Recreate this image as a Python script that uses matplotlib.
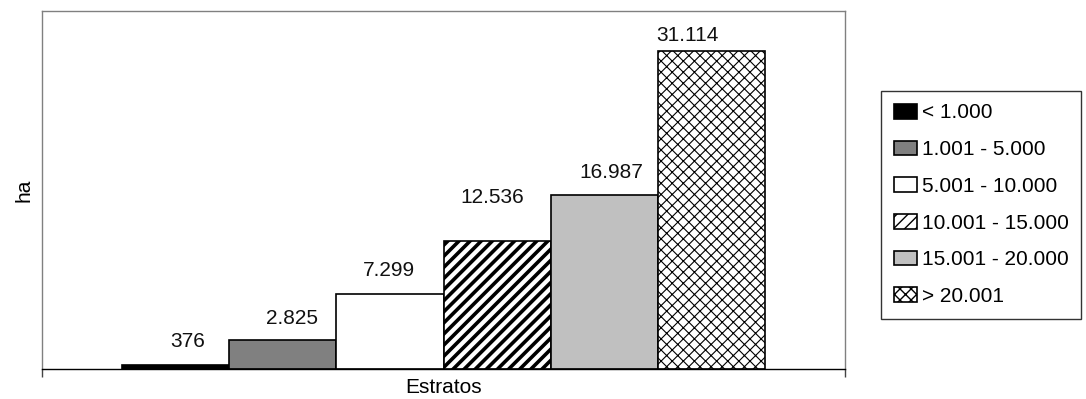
import matplotlib
matplotlib.use("Agg")
import matplotlib.pyplot as plt

plt.rcParams["font.family"] = ["Liberation Sans", "DejaVu Sans"]

estratos = ["< 1.000", "1.001 - 5.000", "5.001 - 10.000", "10.001 - 15.000", "15.001 - 20.000", "> 20.001"]
superficie_ha = [376, 2825, 7299, 12536, 16987, 31114]
etiquetas = ["376", "2.825", "7.299", "12.536", "16.987", "31.114"]

colores = ["#000000", "#808080", "#FFFFFF", "#FFFFFF", "#C0C0C0", "#FFFFFF"]
tramas = [None, None, None, "///", None, "xxx"]
grosor_trama = [1, 1, 1, 2.6, 1, 0.8]
# desplazamiento (px) de cada etiqueta respecto al centro/tope de la barra
etiqueta_dx = [12, 9, -1, -5, 7, -24]
etiqueta_dy = [18, 16, 18, 38, 17, 10]

fig = plt.figure(figsize=(10.86, 3.99), dpi=100)
ax = fig.add_axes([42 / 1086, 1 - 369 / 399, (845 - 42) / 1086, (369 - 11) / 399])

ancho = 0.8 / len(superficie_ha)
for i, (nombre, valor, txt) in enumerate(zip(estratos, superficie_ha, etiquetas)):
    x = (i - (len(superficie_ha) - 1) / 2) * ancho
    bar = ax.bar(x, valor, width=ancho, color=colores[i], edgecolor="black",
                 linewidth=1.2, hatch=tramas[i], label=nombre)[0]
    if hasattr(bar, "set_hatch_linewidth"):
        bar.set_hatch_linewidth(grosor_trama[i])
    ax.annotate(txt, (x, valor), xytext=(etiqueta_dx[i], etiqueta_dy[i]),
                textcoords="offset pixels", ha="center", va="baseline",
                fontsize=15, color="#111111")

ax.set_xlim(-0.5, 0.5)
ax.set_ylim(0, 35000)
ax.set_yticks([])
ax.set_xticks([-0.5, 0.5])
ax.set_xticklabels(["", ""])
ax.tick_params(axis="x", direction="out", length=6, width=1, color="#444444")

for lado in ["left", "top", "right"]:
    ax.spines[lado].set_color("#808080")
    ax.spines[lado].set_linewidth(1)
ax.spines["bottom"].set_color("black")
ax.spines["bottom"].set_linewidth(1)

ax.set_xlabel("Estratos", fontsize=15, labelpad=-3)
ax.set_ylabel("ha", fontsize=15, labelpad=6)

leg = fig.legend(loc="upper left", bbox_to_anchor=(881 / 1086, 1 - 91 / 399),
                 bbox_transform=fig.transFigure, fontsize=15, frameon=True,
                 fancybox=False, edgecolor="black", borderaxespad=0,
                 handlelength=1.15, handleheight=0.7, handletextpad=0.2,
                 labelspacing=0.85, borderpad=0.6)
leg.get_frame().set_linewidth(1)

fig.savefig("out.png", dpi=100, facecolor="white")
